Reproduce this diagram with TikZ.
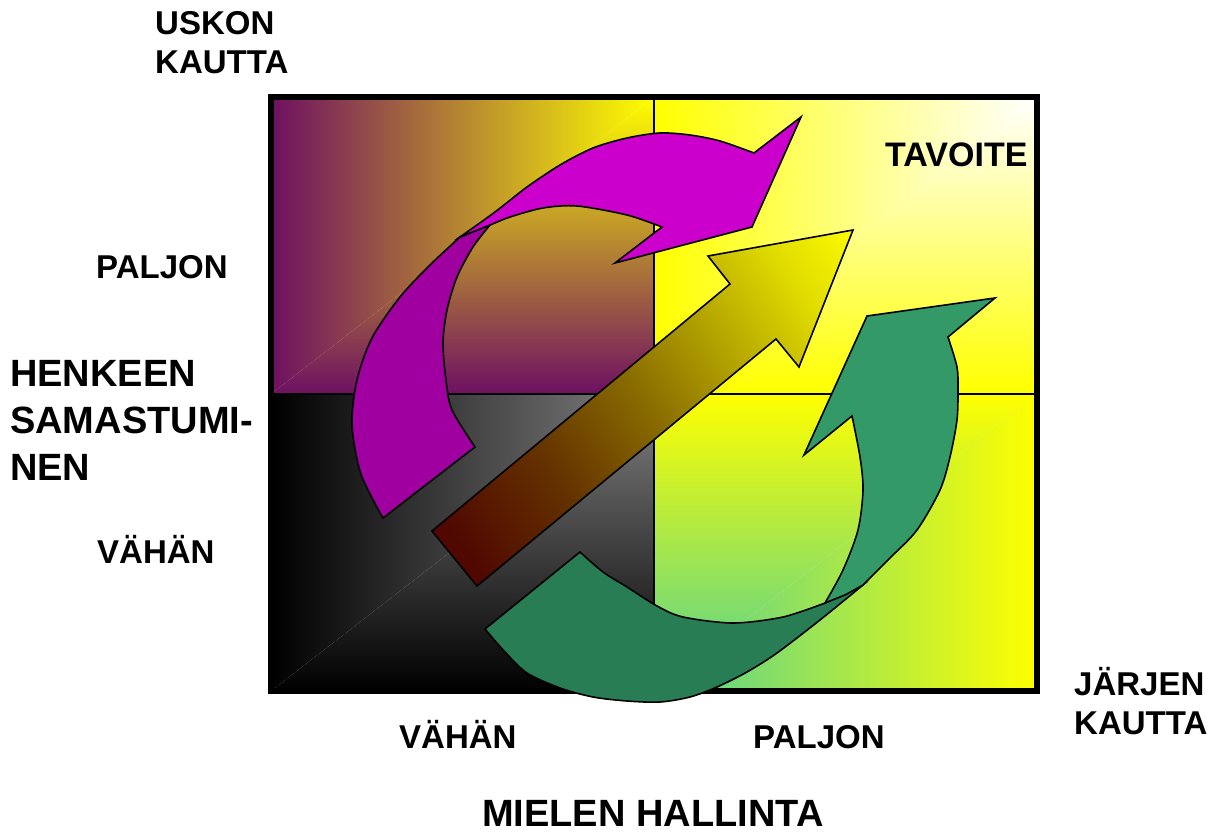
\documentclass[tikz,border=0pt]{standalone}
\usepackage{fontspec}
\setmainfont{Liberation Sans}
\definecolor{qpurple}{RGB}{110,16,98}
\definecolor{qmid}{RGB}{176,140,84}
\definecolor{qyellow}{RGB}{255,255,0}
\definecolor{qgrey}{RGB}{130,130,130}
\definecolor{qgreen}{RGB}{82,208,148}
\definecolor{pDark}{RGB}{160,0,160}
\definecolor{pLight}{RGB}{204,0,204}
\definecolor{gDark}{RGB}{40,125,85}
\definecolor{gLight}{RGB}{51,153,102}
\definecolor{sA}{RGB}{80,8,0}
\definecolor{sB}{RGB}{100,50,0}
\definecolor{sC}{RGB}{135,105,0}
\definecolor{sD}{RGB}{180,165,0}
\definecolor{sE}{RGB}{225,220,0}
\definecolor{sF}{RGB}{255,255,0}
\pgfdeclarehorizontalshading{stshade}{100bp}{color(0bp)=(sA); color(21bp)=(sA); color(36bp)=(sB); color(50bp)=(sC); color(63bp)=(sD); color(75bp)=(sE); color(86bp)=(sF); color(100bp)=(sF)}
\tikzset{
  lab/.style={anchor=base west, inner sep=0pt, font=\bfseries\fontsize{33}{39}\selectfont},
  biglab/.style={anchor=base west, inner sep=0pt, font=\bfseries\fontsize{38}{46.5}\selectfont},
  arrowline/.style={draw=black, line width=1.6pt, line join=miter},
  divider/.style={draw=black, line width=2pt}
}
\begin{document}
\begin{tikzpicture}[x=1pt, y=-1pt]
\useasboundingbox (0,0) rectangle (1224,834);
% ---- quadrants (corner gradients as two triangles each)
% top-left
\shade[left color=qpurple, middle color=qmid, right color=qyellow] (271,394) -- (271,97) -- (654,97) -- cycle;
\shade[bottom color=qpurple, middle color=qmid, top color=qyellow] (271,394) -- (654,394) -- (654,97) -- cycle;
% top-right
\shade[left color=qyellow, right color=white] (654,394) -- (654,97) -- (1037,97) -- cycle;
\shade[bottom color=qyellow, top color=white] (654,394) -- (1037,394) -- (1037,97) -- cycle;
% bottom-left
\shade[left color=black, right color=qgrey] (271,691) -- (271,394) -- (654,394) -- cycle;
\shade[bottom color=black, top color=qgrey] (271,691) -- (654,691) -- (654,394) -- cycle;
% bottom-right
\shade[top color=qyellow, bottom color=qgreen] (654,394) -- (654,691) -- (1037,394) -- cycle;
\shade[left color=qgreen, right color=qyellow] (654,691) -- (1037,691) -- (1037,394) -- cycle;
% dividers and frame
\draw[divider] (654,97) -- (654,691);
\draw[divider] (271,394) -- (1037,394);
\draw[line width=6pt] (271,97) rectangle (1037,691);
% ---- purple curved arrow
\path[fill=pDark, arrowline] plot[smooth] coordinates {(383,518) (361,474) (352,425) (357,380) (372,338) (400,297) (430,265) (460,237)} -- (490,225) -- plot[smooth] coordinates {(490,225) (473,247) (457,277) (447,310) (443,343) (446,380) (452,410) (475,447)} -- cycle;
\path[fill=pLight, arrowline] plot[smooth] coordinates {(460,237) (495,212) (527,187) (560,165) (593,148) (627,138) (660,133) (690,135) (720,141) (754,153)} -- (801,117) -- (752,227) -- (615,263) -- (662,227) -- plot[smooth] coordinates {(662,227) (627,215) (577,206) (543,208) (510,217) (490,225) (460,237)} -- cycle;
% ---- straight arrow
\shade[shading=stshade, shading angle=35] (432,531) -- (730,284) -- (708,256) -- (853,230) -- (799,367) -- (776,339) -- (477,586) -- cycle;
\draw[arrowline] (432,531) -- (730,284) -- (708,256) -- (853,230) -- (799,367) -- (776,339) -- (477,586) -- cycle;
% ---- green curved arrow
\path[fill=gDark, arrowline] plot[smooth] coordinates {(485,629) (505,652) (527,673) (560,688) (593,697) (627,701) (660,702) (690,697) (717,687) (747,672) (777,653) (820,620) (863,585)} -- (825,603) -- plot[smooth] coordinates {(825,603) (783,617) (733,623) (683,617) (657,606) (627,587) (603,572) (580,552)} -- cycle;
\path[fill=gLight, arrowline] plot[smooth] coordinates {(863,585) (890,558) (917,530) (940,490) (950,457) (957,420) (958,390) (957,367) (948,337)} -- (995,298) -- (867,316) -- (804,455) -- (852,416) -- plot[smooth] coordinates {(852,416) (860,457) (863,490) (858,530) (843,570) (825,603)} -- (845,595) -- cycle;
% ---- labels
\node[lab] (uskon) at (155,35) {\begin{tabular}[t]{@{}l@{}}USKON\\KAUTTA\end{tabular}};
\node[lab, font=\bfseries\fontsize{34}{39}\selectfont] (tavoite) at (885,167) {TAVOITE};
\node[lab] (paljonL) at (96,279) {PALJON};
\node[biglab] (henkeen) at (10,387) {\begin{tabular}[t]{@{}l@{}}HENKEEN\\SAMASTUMI-\\NEN\end{tabular}};
\node[lab] (vahanL) at (97,563) {VÄHÄN};
\node[lab] (vahanB) at (399,748) {VÄHÄN};
\node[lab] (paljonB) at (753,748) {PALJON};
\node[lab] (jarjen) at (1074,695) {\begin{tabular}[t]{@{}l@{}}JÄRJEN\\KAUTTA\end{tabular}};
\node[biglab] (mielen) at (482,826) {MIELEN HALLINTA};
\end{tikzpicture}
\end{document}
